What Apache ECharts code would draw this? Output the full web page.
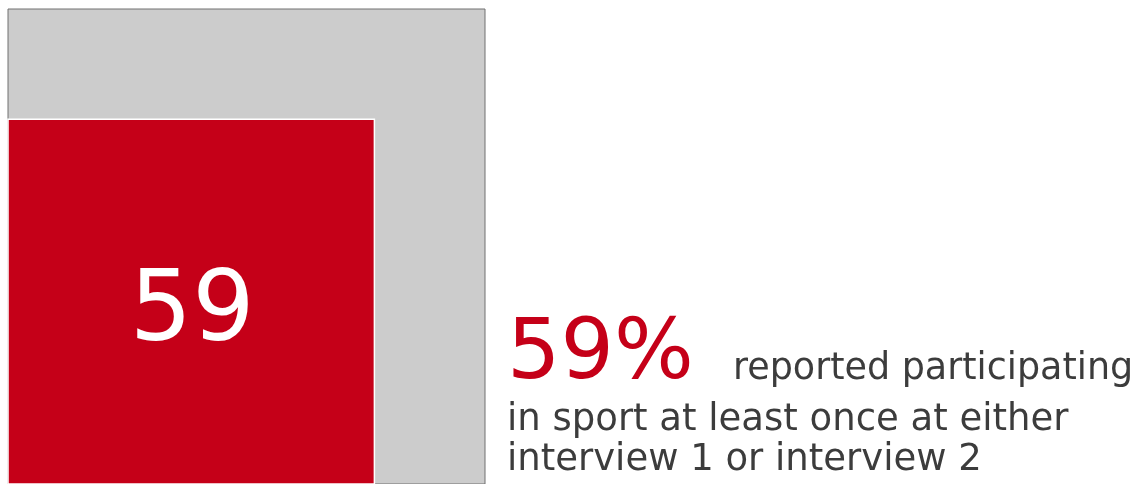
<!DOCTYPE html>
<html>
<head>
<meta charset="utf-8">
<script src="https://cdn.jsdelivr.net/npm/echarts@6/dist/echarts.min.js"></script>
<style>
  html, body { margin: 0; padding: 0; background: #ffffff; }
  #chart { width: 1142px; height: 484px; }
</style>
</head>
<body>
<div id="chart"></div>
<script>
// Share of respondents who took part in sport, out of the whole sample
const total = 100;
const shareValue = 59;
const descriptionLines = [
  'reported participating',
  'in sport at least once at either',
  'interview 1 or interview 2'
];

const chart = echarts.init(document.getElementById('chart'), null, { renderer: 'canvas' });

// Square side lengths so that area is proportional to the value
const squares = [
  { name: 'total', value: total, color: '#cccccc', stroke: '#707070', lw: 1 },
  { name: 'share', value: shareValue, color: '#c50018', stroke: '#ffffff', lw: 1.5 }
];

const font = 'DejaVu Sans, Verdana, sans-serif';

chart.setOption({
  animation: false,
  grid: { left: 8, top: 9, width: 477, height: 477 },
  xAxis: { type: 'value', min: 0, max: total, show: false },
  yAxis: { type: 'value', min: 0, max: total, show: false },
  series: [{
    type: 'custom',
    coordinateSystem: 'cartesian2d',
    data: squares.map(s => [s.value]),
    renderItem: function (params, api) {
      const s = squares[params.dataIndex];
      const side = Math.sqrt(api.value(0) / total) * total;
      const p0 = api.coord([0, 0]);
      const p1 = api.coord([side, side]);
      const children = [{
        type: 'rect',
        shape: { x: p0[0], y: p1[1], width: p1[0] - p0[0], height: p0[1] - p1[1] },
        style: { fill: s.color, stroke: s.stroke, lineWidth: s.lw }
      }];
      if (s.name === 'share') {
        children.push({
          type: 'text',
          x: (p0[0] + p1[0]) / 2 + 1,
          y: (p0[1] + p1[1]) / 2 + 13,
          style: {
            text: String(api.value(0)),
            fill: '#ffffff',
            font: '98px ' + font,
            align: 'center',
            verticalAlign: 'middle'
          }
        });
      }
      return { type: 'group', children: children };
    }
  }],
  graphic: [
    {
      type: 'text', left: 507, top: 314,
      style: { text: shareValue + '%', fill: '#c50018', font: '84px ' + font }
    },
    {
      type: 'text', left: 733, top: 351,
      style: { text: descriptionLines[0], fill: '#3c3c3c', font: '36.5px ' + font }
    },
    {
      type: 'text', left: 507, top: 402,
      style: { text: descriptionLines[1], fill: '#3c3c3c', font: '37px ' + font }
    },
    {
      type: 'text', left: 507, top: 442,
      style: { text: descriptionLines[2], fill: '#3c3c3c', font: '37px ' + font }
    }
  ]
});
</script>
</body>
</html>
